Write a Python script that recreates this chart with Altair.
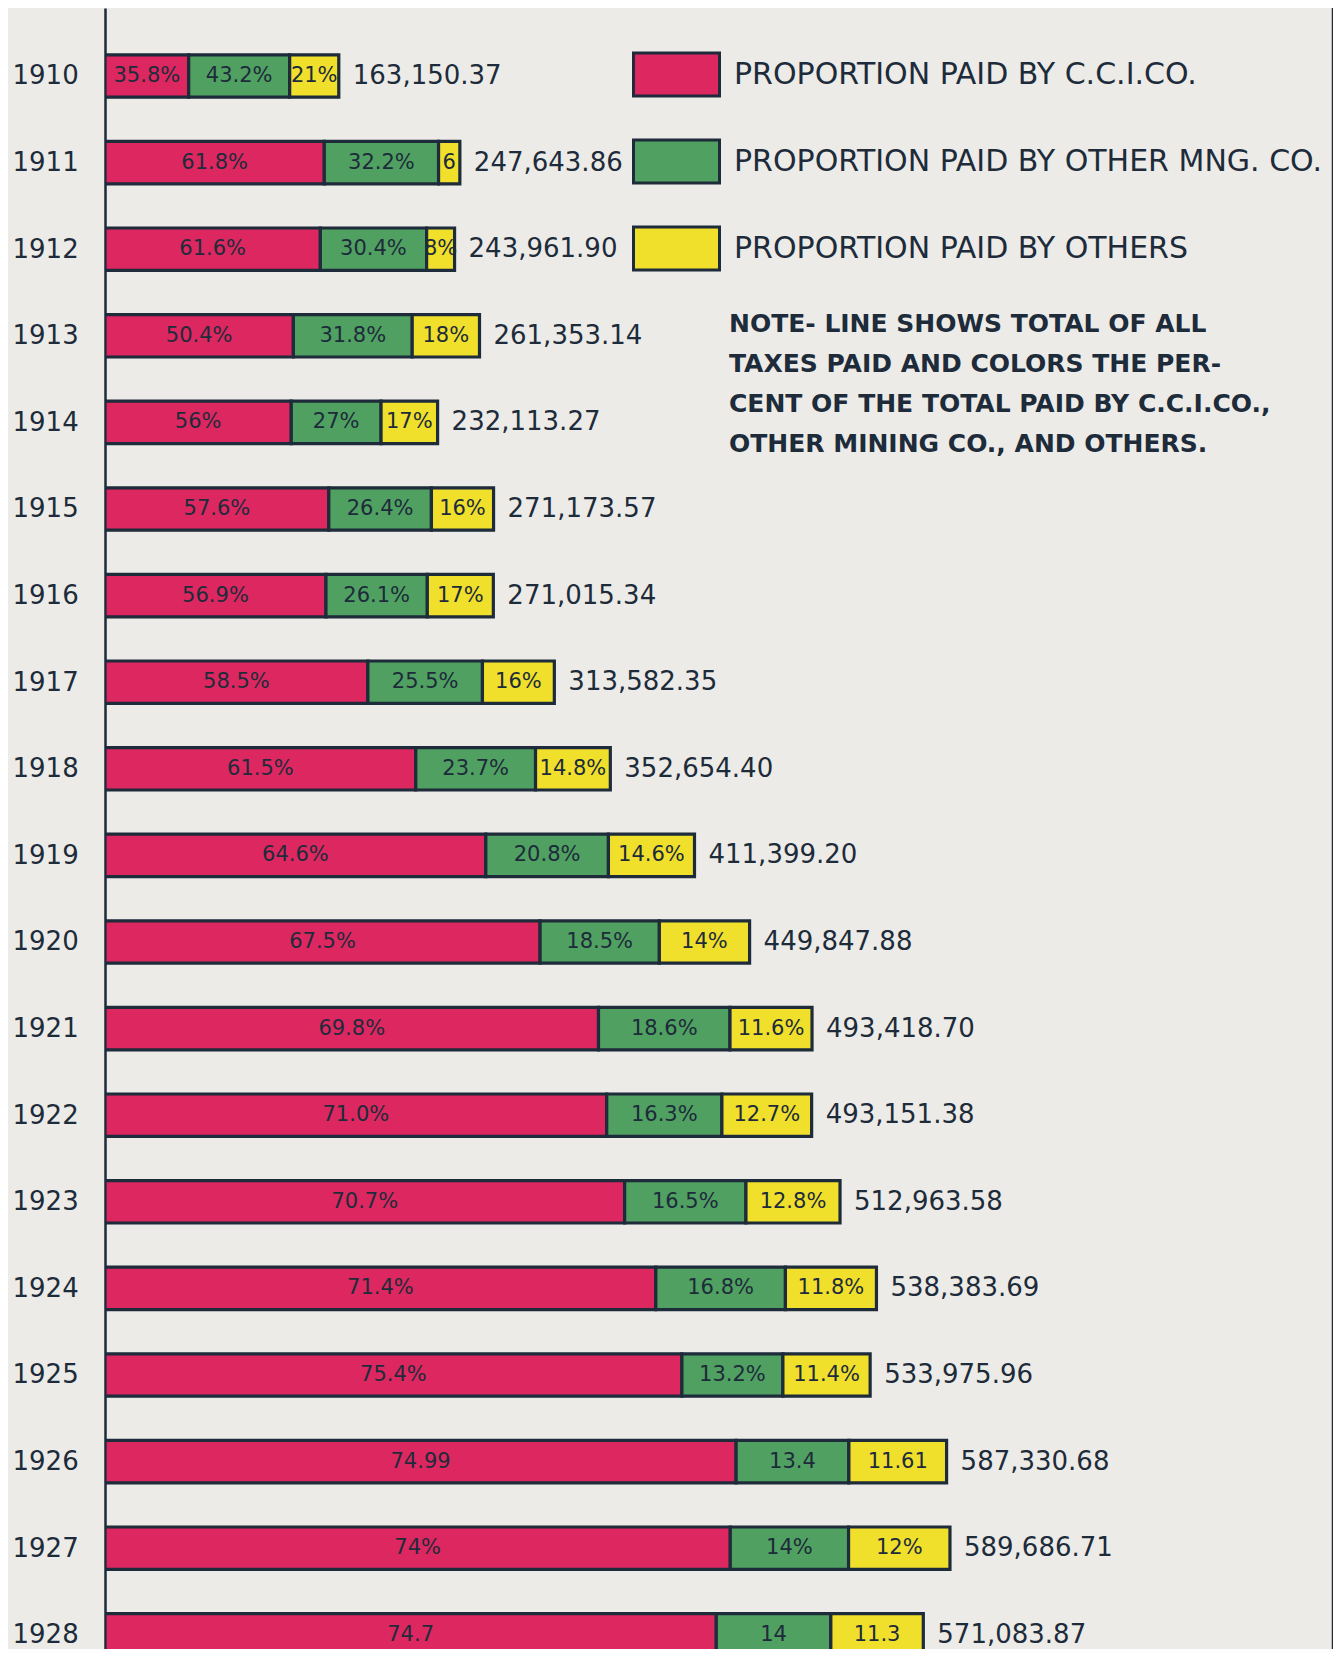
import altair as alt
import pandas as pd

# ---------------- data ----------------
years = list(range(1910, 1929))
totals = [163150.37, 247643.86, 243961.90, 261353.14, 232113.27, 271173.57,
          271015.34, 313582.35, 352654.40, 411399.20, 449847.88, 493418.70,
          493151.38, 512963.58, 538383.69, 533975.96, 587330.68, 589686.71,
          571083.87]
pct_cci = [35.8, 61.8, 61.6, 50.4, 56, 57.6, 56.9, 58.5, 61.5, 64.6, 67.5,
           69.8, 71.0, 70.7, 71.4, 75.4, 74.99, 74, 74.7]
pct_mng = [43.2, 32.2, 30.4, 31.8, 27, 26.4, 26.1, 25.5, 23.7, 20.8, 18.5,
           18.6, 16.3, 16.5, 16.8, 13.2, 13.4, 14, 14]
pct_oth = [21, 6, 8, 18, 17, 16, 17, 16, 14.8, 14.6, 14, 11.6, 12.7, 12.8,
           11.8, 11.4, 11.61, 12, 11.3]
lbl_cci = ["35.8%", "61.8%", "61.6%", "50.4%", "56%", "57.6%", "56.9%",
           "58.5%", "61.5%", "64.6%", "67.5%", "69.8%", "71.0%", "70.7%",
           "71.4%", "75.4%", "74.99", "74%", "74.7"]
lbl_mng = ["43.2%", "32.2%", "30.4%", "31.8%", "27%", "26.4%", "26.1%",
           "25.5%", "23.7%", "20.8%", "18.5%", "18.6%", "16.3%", "16.5%",
           "16.8%", "13.2%", "13.4", "14%", "14"]
lbl_oth = ["21%", "6", "8%", "18%", "17%", "16%", "17%", "16%", "14.8%",
           "14.6%", "14%", "11.6%", "12.7%", "12.8%", "11.8%", "11.4%",
           "11.61", "12%", "11.3"]
categories = ["PROPORTION PAID BY C.C.I.CO.",
              "PROPORTION PAID BY OTHER MNG. CO.",
              "PROPORTION PAID BY OTHERS"]
note_text = ("NOTE- LINE SHOWS TOTAL OF ALL\n"
             "TAXES PAID AND COLORS THE PER-\n"
             "CENT OF THE TOTAL PAID BY C.C.I.CO.,\n"
             "OTHER MINING CO., AND OTHERS.")

# ---------------- styling ----------------
RED, GREEN, YELLOW = "#dd2760", "#50a062", "#f0e02c"
INK = "#1d2b3a"
PAPER = "#ecebe7"
W, H = 1228, 1641

# build long table
rows = []
for i, yr in enumerate(years):
    pcts = [pct_cci[i], pct_mng[i], pct_oth[i]]
    lbls = [lbl_cci[i], lbl_mng[i], lbl_oth[i]]
    s = sum(pcts)
    cum = 0.0
    for k in range(3):
        x0 = totals[i] * cum / s
        cum += pcts[k]
        x1 = totals[i] * cum / s
        rows.append({"year": yr, "cat": categories[k], "order": k,
                     "x0": x0, "x1": x1, "xm": (x0 + x1) / 2,
                     "label": lbls[k]})
seg = pd.DataFrame(rows)
tot = pd.DataFrame({"year": years, "total": totals})

xscale = alt.Scale(domain=[0, 857000], nice=False, zero=False)
yscale = alt.Scale(domain=[1909.2148, 1928.1640], nice=False, zero=False,
                   reverse=True)

bars = alt.Chart(seg).transform_calculate(
    ylo="datum.year - 0.245", yhi="datum.year + 0.245"
).mark_rect(stroke=INK, strokeWidth=3.2, opacity=1, clip=True).encode(
    x=alt.X("x0:Q", scale=xscale, axis=None),
    x2="x1:Q",
    y=alt.Y("ylo:Q", scale=yscale, title=None,
            axis=alt.Axis(values=years, format="d", labelAlign="left",
                          labelPadding=93, ticks=False, tickSize=0,
                          grid=False, domainColor=INK, domainWidth=2.5,
                          labelFontSize=26, labelColor=INK,
                          labelFont="DejaVu Sans", labelBaseline="middle",
                          title=None)),
    y2="yhi:Q",
    color=alt.Color("cat:N",
                    scale=alt.Scale(domain=categories,
                                    range=[RED, GREEN, YELLOW]),
                    legend=alt.Legend(orient="none", legendX=527, legendY=22,
                                      direction="vertical", title=None,
                                      symbolType="M-1,-0.5H1V0.5H-1Z",
                                      symbolSize=7396, symbolStrokeColor=INK,
                                      symbolStrokeWidth=3, symbolOpacity=1,
                                      labelFontSize=30, labelFont="DejaVu Sans",
                                      labelColor=INK, labelOffset=13,
                                      labelLimit=800, rowPadding=15,
                                      padding=0)),
)

seg_text = alt.Chart(seg).mark_text(
    color=INK, fontSize=21, font="DejaVu Sans", baseline="middle",
    align="center", clip=True
).encode(
    x=alt.X("xm:Q", scale=xscale, axis=None),
    y=alt.Y("year:Q", scale=yscale, title=None),
    text="label:N",
)

tot_text = alt.Chart(tot).mark_text(
    color=INK, fontSize=26, font="DejaVu Sans", baseline="middle",
    align="left", dx=14, clip=True
).encode(
    x=alt.X("total:Q", scale=xscale, axis=None),
    y=alt.Y("year:Q", scale=yscale, title=None),
    text=alt.Text("total:Q", format=",.2f"),
)

note = alt.Chart(pd.DataFrame({"note": [note_text]})).mark_text(
    color=INK, fontSize=25, fontWeight="bold", font="DejaVu Sans",
    align="left", baseline="top", lineBreak="\n", lineHeight=40
).encode(
    x=alt.value(624), y=alt.value(304), text="note:N"
)

frame = alt.Chart(pd.DataFrame({"a": [0]})).mark_rule(
    color=INK, strokeWidth=2.5
).encode(x=alt.value(W), y=alt.value(0), y2=alt.value(H))

chart = alt.layer(bars, seg_text, tot_text, note, frame).properties(
    width=W, height=H,
    autosize=alt.AutoSizeParams(type="none"),
    padding={"left": 97, "top": 0, "right": 0, "bottom": 0},
    background=PAPER,
).configure_view(stroke=None)

chart.save("out.html", embed_options={"renderer": "svg", "actions": False})
